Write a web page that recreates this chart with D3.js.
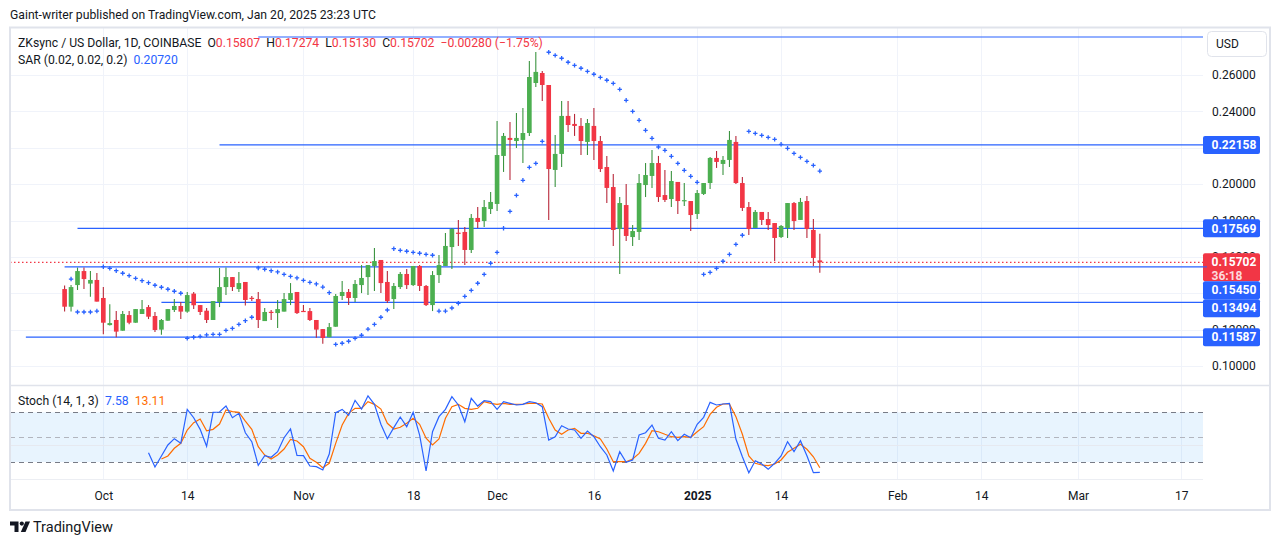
<!DOCTYPE html>
<html><head><meta charset="utf-8">
<script src="https://cdn.jsdelivr.net/npm/d3@7"></script>
<style>
html,body{margin:0;padding:0;background:#fff;}
svg{display:block;}
text{white-space:pre;}
</style></head>
<body><svg id="c" width="1281" height="545"></svg>
<script>
// ---------------- DATA ----------------
const firstDay = "2024-09-25";
const lastDay = "2025-01-20";
const openP = [.1423,.1326,.1445,.1522,.1453,.1473,.1374,.1225,.1253,.1194,.1280,.1238,.1286,.1324,.1275,.1200,.1249,.1308,.1330,.1299,
.1398,.1335,.1304,.1253,.1352,.1434,.1489,.1423,.1462,.1375,.1368,.1247,.1298,.1291,.1299,.1363,.1407,.1303,.1302,.1253,
.1203,.1158,.1216,.1385,.1407,.1374,.1445,.1489,.1550,.1583,.1462,.1368,.1434,.1506,.1445,.1550,.1440,.1335,.1500,.1550,
.1654,.1733,.1737,.1638,.1814,.1797,.1863,.1891,.2155,.2254,.2237,.2243,.2281,.2556,.2611,.2545,.2078,.2166,.2375,.2331,
.2320,.2232,.2320,.2237,.2094,.1984,.1753,.1885,.1709,.1737,.1995,.2045,.2116,.1940,.1918,.2012,.1909,.1907,.1836,.1946,
.2006,.2144,.2111,.2133,.2232,.2006,.1874,.1759,.1847,.1808,.1786,.1709,.1759,.1896,.1803,.1907,.1748,.15807];
const highP = [.1442,.1445,.1541,.1541,.1522,.1511,.1434,.1339,.1302,.1302,.1302,.1313,.1363,.1335,.1297,.1258,.1313,.1368,.1352,.1407,
.1407,.1335,.1319,.1357,.1539,.1541,.1489,.1517,.1462,.1385,.1407,.1319,.1308,.1363,.1401,.1456,.1407,.1335,.1319,.1253,
.1203,.1236,.1396,.1467,.1423,.1473,.1555,.1555,.1649,.1583,.1522,.1456,.1517,.1533,.1550,.1555,.1445,.1522,.1610,.1731,
.1759,.1803,.1764,.1836,.1874,.1913,.1957,.2347,.2281,.2342,.2391,.2419,.2677,.2727,.2622,.2545,.2270,.2457,.2457,.2386,
.2364,.2358,.2419,.2265,.2155,.2056,.1929,.2001,.1775,.2056,.2116,.2188,.2155,.2078,.2072,.2012,.2006,.1907,.1968,.2006,
.2149,.2182,.2155,.2292,.2265,.2039,.1902,.1858,.1847,.1847,.1786,.1775,.1896,.1902,.1924,.1935,.1808,.17274];
const lowP = [.1299,.1299,.1418,.1423,.1381,.1354,.1174,.1222,.1158,.1194,.1229,.1238,.1286,.1258,.1187,.1172,.1249,.1297,.1258,.1293,
.1313,.1280,.1236,.1253,.1324,.1390,.1412,.1407,.1332,.1357,.1209,.1247,.1253,.1209,.1299,.1335,.1286,.1297,.1247,.1156,
.1123,.1158,.1216,.1363,.1335,.1352,.1401,.1390,.1412,.1401,.1346,.1313,.1423,.1423,.1440,.1412,.1330,.1302,.1456,.1550,
.1533,.1660,.1555,.1621,.1759,.1764,.1836,.1852,.2067,.2023,.2199,.2116,.2265,.2534,.2457,.1803,.1984,.2094,.2287,.2265,
.2160,.2160,.2133,.2067,.1896,.1660,.1506,.1687,.1660,.1693,.1929,.1979,.1902,.1902,.1874,.1836,.1880,.1742,.1808,.1940,
.1973,.2089,.2050,.2094,.2001,.1852,.1720,.1759,.1775,.1748,.1577,.1704,.1704,.1748,.1803,.1704,.1550,.15130];
const closeP = [.1326,.1434,.1522,.1478,.1473,.1354,.1238,.1236,.1189,.1286,.1238,.1313,.1313,.1271,.1198,.1253,.1313,.1330,.1299,.1390,
.1334,.1297,.1253,.1357,.1434,.1489,.1434,.1456,.1363,.1373,.1253,.1297,.1296,.1313,.1368,.1401,.1291,.1302,.1253,.1200,
.1154,.1214,.1385,.1407,.1374,.1451,.1484,.1555,.1577,.1456,.1357,.1440,.1506,.1445,.1550,.1440,.1335,.1500,.1555,.1660,
.1753,.1729,.1638,.1814,.1792,.1874,.1902,.2160,.2265,.2243,.2254,.2281,.2589,.2617,.2545,.2083,.2166,.2375,.2325,.2320,
.2237,.2336,.2237,.2083,.1979,.1748,.1896,.1715,.1742,.2006,.2050,.2116,.1929,.1913,.2017,.1907,.1912,.1830,.1951,.2006,
.2144,.2122,.2133,.2243,.2006,.1869,.1753,.1847,.1803,.1775,.1704,.1770,.1896,.1797,.1902,.1753,.1594,.15702];
const sarP = [null,.1478,.1297,.1297,.1297,.1302,.1546,.1537,.1524,.1510,.1497,.1482,.1469,.1458,.1444,.1433,.1422,.1411,.1400,.1152,
.1158,.1163,.1171,.1174,.1174,.1196,.1207,.1229,.1249,.1268,.1539,.1532,.1524,.1517,.1504,.1493,.1484,.1471,.1460,.1451,
.1434,.1403,.1119,.1125,.1136,.1152,.1169,.1203,.1229,.1268,.1308,.1645,.1636,.1631,.1625,.1620,.1614,.1609,.1302,.1302,
.1319,.1345,.1383,.1416,.1455,.1504,.1565,.1625,.1757,.1850,.1938,.2021,.2092,.2114,.2235,.2725,.2708,.2692,.2670,.2653,
.2637,.2620,.2604,.2587,.2571,.2554,.2521,.2461,.2400,.2351,.2296,.2252,.2204,.2186,.2153,.2114,.2076,.2043,.2010,.1504,
.1515,.1537,.1576,.1614,.1669,.1719,.2290,.2279,.2268,.2257,.2246,.2219,.2197,.2169,.2147,.2125,.2103,.2072];
const stochK = [null,null,null,null,null,null,null,null,null,null,null,null,null,31.3,14.0,27.3,40.6,48.2,42.6,83.6,
73.5,59.5,39.0,80.0,80.4,87.6,73.5,78.8,55.4,44.6,16.0,27.7,25.7,32.5,49.4,59.9,28.1,27.7,15.2,14.4,
10.4,29.7,79.6,83.6,76.4,94.5,84.0,100,89.7,65.6,48.2,61.5,74.4,62.7,80.0,52.6,9.2,56.6,74.8,83.6,
98.9,88.9,68.7,96.9,87.6,94.1,92.9,83.6,92.9,90.9,88.9,89.7,92.9,91.6,86.8,46.6,50.6,63.9,59.9,58.7,
48.7,57.5,50.6,38.5,28.5,9.2,32.5,19.7,22.5,52.6,55.4,64.7,48.7,46.6,56.6,45.8,53.5,49.4,65.6,74.0,
92.1,88.9,90.1,90.9,47.8,26.4,7.1,21.6,17.6,11.2,18.5,27.3,44.6,32.5,45.8,27.7,7.1,7.58];
const stochD = [null,null,null,null,null,null,null,null,null,null,null,null,null,null,null,23.7,27.3,36.6,42.6,58.7,
67.5,72.0,57.8,59.5,65.9,82.8,80.8,80.0,69.5,59.5,38.5,28.5,23.7,28.5,35.7,47.4,45.4,38.5,24.5,19.7,
13.2,18.5,42.6,64.7,78.8,84.9,84.9,92.9,89.7,84.0,66.8,59.9,62.0,66.8,72.8,65.6,48.7,40.6,47.8,72.8,
86.8,89.7,84.9,83.6,84.9,92.9,90.9,89.7,90.9,89.7,89.7,90.1,90.9,90.9,90.1,72.8,58.7,53.5,58.7,60.7,
54.7,54.7,51.8,47.8,35.7,20.4,20.4,20.4,23.7,30.5,42.6,57.8,56.6,53.5,50.6,49.9,50.6,49.9,56.6,62.7,
77.6,86.1,90.1,90.1,74.8,53.5,27.3,18.5,16.4,15.6,17.6,22.5,31.8,36.6,41.4,35.4,26.4,13.11];
const levelPrices = [0.2809, 0.22158, 0.17569, 0.15450, 0.13494, 0.11587];
const levelStarts = ["2024-10-25","2024-10-19","2024-09-27","2024-09-25","2024-10-10","2024-09-19"];
const priceTicks = [0.10,0.12,0.14,0.16,0.18,0.20,0.22,0.24,0.26];
const stochTicks = [0,40,80];
const timeTickDates = ["2024-10-01","2024-10-14","2024-11-01","2024-11-18","2024-12-01","2024-12-16","2025-01-01","2025-01-14","2025-02-01","2025-02-14","2025-03-01","2025-03-17"];
const timeTickLabels = ["Oct","14","Nov","18","Dec","16","2025","14","Feb","14","Mar","17"];

// ---------------- SETUP ----------------
const F = 'Roboto, "Noto Sans", sans-serif';
const TXT = '#131722', GRID = '#f0f3fa', BORDER = '#e0e3eb';
const UP = '#4caf50', DN = '#f23645', UPW = '#3b9440', DNW = '#b8283a', BLUE = '#2962ff', ORANGE = '#ff6d00';
const pd = d3.utcParse('%Y-%m-%d');
const dates = d3.utcDay.range(pd(firstDay), d3.utcDay.offset(pd(lastDay), 1));
const bars = dates.map((d,i)=>({d, o:openP[i], h:highP[i], l:lowP[i], c:closeP[i], sar:sarP[i], k:stochK[i], dd:stochD[i]}));

const L = 10, R = 1203, T = 28, MB = 385, ST = 386, SB = 480;
const x = d3.scaleUtc().domain([pd("2024-09-25"), pd("2025-03-17")]).range([64.6, 1181.3]);
const y = d3.scaleLinear().domain([0.10, 0.26]).range([366, 75]);
const ys = d3.scaleLinear().domain([0, 100]).range([478.6, 395.8]);
const step = x(dates[1]) - x(dates[0]);
const bw = step * 0.72;
const fmt5 = d3.format('.5f');
const last = bars[bars.length-1];

const svg = d3.select('#c').attr('font-family', F);
svg.append('rect').attr('width',1281).attr('height',545).attr('fill','#fff');

const defs = svg.append('defs');
defs.append('clipPath').attr('id','mainClip').append('rect').attr('x',L).attr('y',T).attr('width',R-L).attr('height',MB-T);
defs.append('clipPath').attr('id','stClip').append('rect').attr('x',L).attr('y',ST).attr('width',R-L).attr('height',SB-ST);
defs.append('clipPath').attr('id','stAxClip').append('rect').attr('x',R).attr('y',ST).attr('width',70).attr('height',SB-ST+2);

// header
svg.append('text').attr('x',10).attr('y',19).attr('font-size',12.2).attr('fill',TXT)
  .text('Gaint-writer published on TradingView.com, Jan 20, 2025 23:23 UTC');

// grid
const g = svg.append('g');
g.selectAll('.hg').data(priceTicks).join('line')
  .attr('x1',L).attr('x2',R).attr('y1',d=>Math.round(y(d))+0.5).attr('y2',d=>Math.round(y(d))+0.5)
  .attr('stroke',GRID).attr('stroke-width',1);
const tDates = timeTickDates.map(pd);
g.selectAll('.vg').data(tDates).join('line')
  .attr('x1',d=>Math.round(x(d))+0.5).attr('x2',d=>Math.round(x(d))+0.5).attr('y1',T).attr('y2',SB)
  .attr('stroke',GRID).attr('stroke-width',1);

// stoch band + grid
svg.append('rect').attr('x',L).attr('width',R-L).attr('y',ys(80)).attr('height',ys(20)-ys(80)).attr('fill','rgba(33,150,243,0.1)');
svg.append('line').attr('x1',L).attr('x2',R).attr('y1',ys(40)).attr('y2',ys(40)).attr('stroke','#e6e9f0');
svg.append('line').attr('x1',L).attr('x2',R).attr('y1',SB-0.5).attr('y2',SB-0.5).attr('stroke','#eceef3');
[[80,'#787b86'],[50,'#b2b5be'],[20,'#787b86']].forEach(([v,c])=>{
  svg.append('line').attr('x1',L).attr('x2',R).attr('y1',Math.round(ys(v))+0.5).attr('y2',Math.round(ys(v))+0.5)
    .attr('stroke',c).attr('stroke-dasharray','5,4').attr('stroke-width',1);
});

// main pane content
const main = svg.append('g').attr('clip-path','url(#mainClip)');
main.selectAll('.lvl').data(levelPrices).join('line')
  .attr('x1',(d,i)=>x(pd(levelStarts[i]))).attr('x2',R)
  .attr('y1',d=>y(d)).attr('y2',d=>y(d)).attr('stroke',BLUE).attr('stroke-width',1.2);
main.append('line').attr('x1',L).attr('x2',R).attr('y1',y(last.c)).attr('y2',y(last.c))
  .attr('stroke',DN).attr('stroke-width',1.2).attr('stroke-dasharray','1.5,2.5');
const cg = main.append('g');
cg.selectAll('.wk').data(bars).join('line')
  .attr('x1',d=>x(d.d)).attr('x2',d=>x(d.d)).attr('y1',d=>y(d.h)).attr('y2',d=>y(d.l))
  .attr('stroke',d=>d.c>=d.o?UPW:DNW).attr('stroke-width',1.1);
cg.selectAll('.bd').data(bars).join('rect')
  .attr('x',d=>x(d.d)-bw/2).attr('width',bw)
  .attr('y',d=>y(Math.max(d.o,d.c))).attr('height',d=>Math.max(1.2, Math.abs(y(d.o)-y(d.c))))
  .attr('fill',d=>d.c>=d.o?UP:DN);
main.append('path').attr('stroke',BLUE).attr('stroke-width',1.3).attr('fill','none')
  .attr('d', bars.filter(b=>b.sar!=null).map(b=>{const cx=x(b.d), cy=y(b.sar);
     return `M${cx-2.2},${cy}H${cx+2.2}M${cx},${cy-2.2}V${cy+2.2}`;}).join(''));

// stoch lines
const st = svg.append('g').attr('clip-path','url(#stClip)');
st.append('path').datum(bars).attr('fill','none').attr('stroke',ORANGE).attr('stroke-width',1.2)
  .attr('d', d3.line().defined(d=>d.dd!=null).x(d=>x(d.d)).y(d=>ys(d.dd)));
st.append('path').datum(bars).attr('fill','none').attr('stroke',BLUE).attr('stroke-width',1.2)
  .attr('d', d3.line().defined(d=>d.k!=null).x(d=>x(d.d)).y(d=>ys(d.k)));

// legends
const lg = svg.append('text').attr('x',18).attr('y',46.5).attr('font-size',12.2).attr('fill',TXT);
lg.append('tspan').text('ZKsync / US Dollar, 1D, COINBASE  O');
lg.append('tspan').attr('fill',DN).text(fmt5(last.o));
lg.append('tspan').text('  H');
lg.append('tspan').attr('fill',DN).text(fmt5(last.h));
lg.append('tspan').text('  L');
lg.append('tspan').attr('fill',DN).text(fmt5(last.l));
lg.append('tspan').text('  C');
lg.append('tspan').attr('fill',DN).text(fmt5(last.c) + '  \u22120.00280 (\u22121.75%)');
const lg2 = svg.append('text').attr('x',18).attr('y',63.5).attr('font-size',12.2).attr('fill',TXT);
lg2.append('tspan').text('SAR (0.02, 0.02, 0.2)  ');
lg2.append('tspan').attr('fill',BLUE).text(fmt5(last.sar));
const lg3 = svg.append('text').attr('x',18).attr('y',405).attr('font-size',12.2).attr('fill',TXT);
lg3.append('tspan').text('Stoch (14, 1, 3)  ');
lg3.append('tspan').attr('fill',BLUE).text(d3.format('.2f')(last.k));
lg3.append('tspan').attr('fill',ORANGE).text('  ' + d3.format('.2f')(last.dd));

// price labels layout (computed first so fully covered tick labels can be skipped)
const labels = [];
levelPrices.slice(1).forEach(p=>labels.push({p, h:18, txt:[fmt5(p)], col:BLUE}));
labels.push({p:last.c, h:28, txt:[fmt5(last.c),'36:18'], col:DN});
labels.sort((a,b)=>y(a.p)-y(b.p));
let prevBottom = -1e9;
labels.forEach(lb=>{
  let top = y(lb.p) - 9;
  if (top < prevBottom) top = prevBottom;
  lb.top = top; prevBottom = top + lb.h;
});
const covered = v => labels.some(lb => lb.top <= y(v)-4 && lb.top+lb.h >= y(v)+4);

// price axis
const pa = svg.append('g').attr('transform',`translate(${R},0)`)
  .call(d3.axisRight(y).tickValues(priceTicks.filter(v=>!covered(v))).tickFormat(d3.format('.5f')).tickSize(0).tickPadding(9));
pa.select('.domain').remove();
pa.selectAll('text').attr('font-size',12).attr('fill',TXT).attr('font-family',F);

// stoch axis
const sa = svg.append('g').attr('transform',`translate(${R},0)`).attr('clip-path','url(#stAxClip)')
  .call(d3.axisRight(ys).tickValues(stochTicks).tickFormat(d3.format('.2f')).tickSize(0).tickPadding(9));
sa.select('.domain').remove();
sa.selectAll('text').attr('font-size',12).attr('fill',TXT).attr('font-family',F);

// time axis
const ta = svg.append('g').attr('transform',`translate(0,${SB})`)
  .call(d3.axisBottom(x).tickValues(tDates).tickFormat((d,i)=>timeTickLabels[i]).tickSize(0).tickPadding(11));
ta.select('.domain').remove();
ta.selectAll('text').attr('font-size',12).attr('fill',TXT).attr('font-family',F)
  .attr('font-weight',(d,i)=>timeTickLabels[i]==='2025'?'bold':null);

// price label boxes
const lbG = svg.append('g');
labels.forEach(lb=>{
  lbG.append('line').attr('x1',R).attr('x2',R+4).attr('y1',y(lb.p)).attr('y2',y(lb.p)).attr('stroke',lb.col);
  lbG.append('rect').attr('x',R).attr('y',lb.top).attr('width',57).attr('height',lb.h).attr('rx',2).attr('fill',lb.col);
  lb.txt.forEach((t,j)=>{
    lbG.append('text').attr('x',R+8.5).attr('y',lb.top+9+j*13.5).attr('dy','0.35em')
      .attr('font-size',12).attr('font-weight','bold').attr('fill', j===0?'#fff':'rgba(255,255,255,0.82)').text(t);
  });
});

// USD box
svg.append('rect').attr('x',1207.5).attr('y',31.5).attr('width',59).attr('height',25).attr('rx',4)
  .attr('fill','#fff').attr('stroke',BORDER);
svg.append('text').attr('x',1216).attr('y',44).attr('dy','0.35em').attr('font-size',12).attr('fill',TXT).text('USD');

// frame and separators
svg.append('rect').attr('x',10).attr('y',27.5).attr('width',1260).attr('height',482.5)
  .attr('fill','none').attr('stroke',BORDER).attr('stroke-width',2);
svg.append('line').attr('x1',10).attr('x2',1270).attr('y1',385.5).attr('y2',385.5).attr('stroke',BORDER).attr('stroke-width',1.5);

// TradingView logo + text
const lgG = svg.append('g').attr('fill',TXT);
lgG.append('path').attr('d','M10,521.5H18.5V532H14.5V525.5H10Z');
lgG.append('circle').attr('cx',21.8).attr('cy',523.6).attr('r',2.1);
lgG.append('path').attr('d','M25.5,521.5H30L25.5,532H20.8Z');
svg.append('text').attr('x',33).attr('y',527).attr('dy','0.35em').attr('font-size',14.5).attr('fill',TXT).text('TradingView');
</script>
</body></html>
